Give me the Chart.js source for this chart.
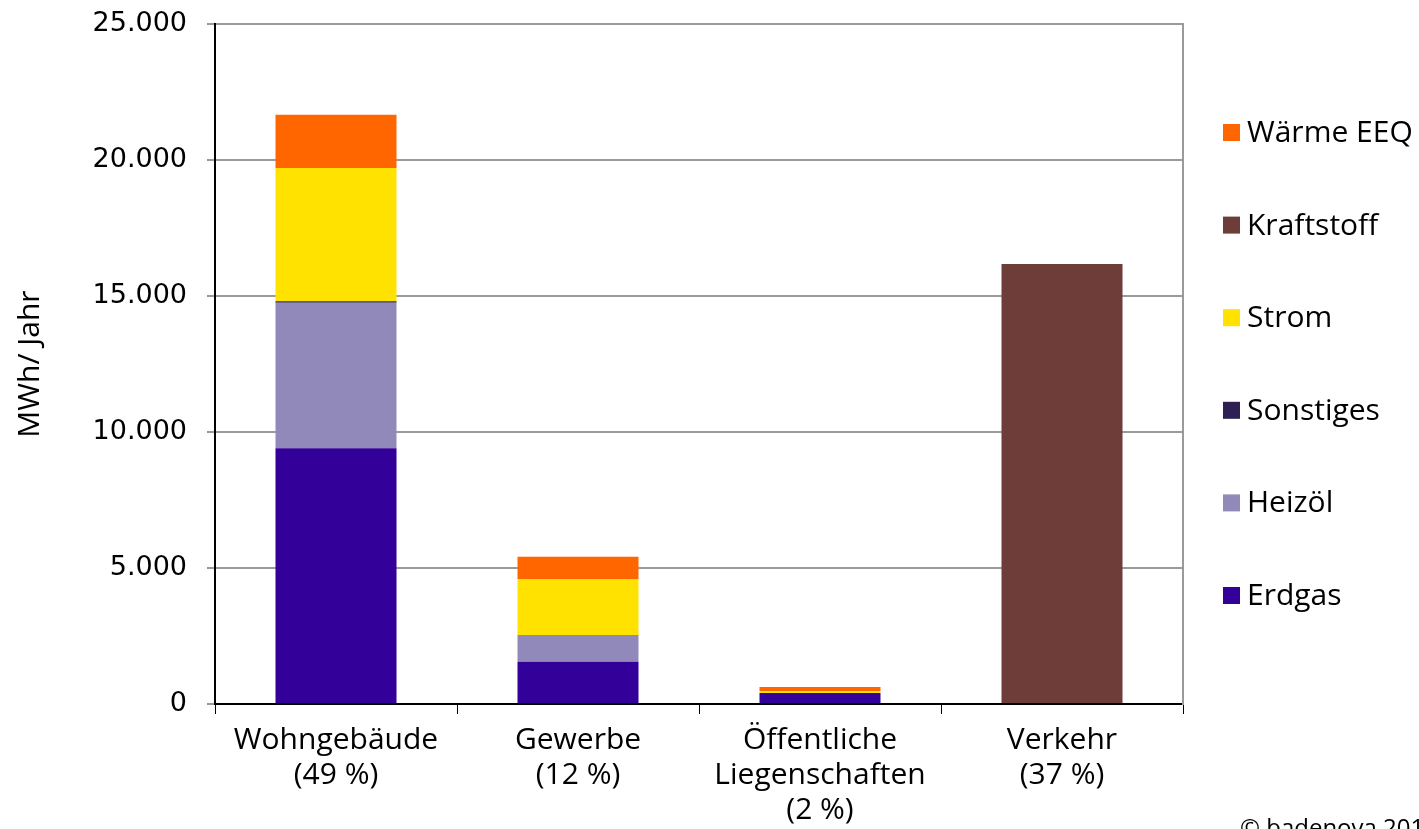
<!DOCTYPE html>
<html>
<head>
<meta charset="utf-8">
<script src="https://cdn.jsdelivr.net/npm/chart.js@4"></script>
<style>
  html, body { margin: 0; padding: 0; background: #fff; overflow: hidden; }
  #wrap { width: 1419px; height: 829px; position: relative; }
</style>
</head>
<body>
<div id="wrap"><canvas id="myChart" width="1419" height="829"></canvas></div>
<script>
var categories = [['Wohngebäude', '(49 %)'], ['Gewerbe', '(12 %)'], ['Öffentliche', 'Liegenschaften', '(2 %)'], ['Verkehr', '(37 %)']];

var erdgas     = [9400, 1550, 400, 0];
var heizoel    = [5350, 990, 0, 0];
var sonstiges  = [60, 0, 0, 0];
var strom      = [4900, 2060, 75, 0];
var kraftstoff = [0, 0, 0, 16180];
var waermeEEQ  = [1950, 810, 150, 0];

var yTicks = [0, 5000, 10000, 15000, 20000, 25000];

function fmt(v) {
    return String(v).replace(/\B(?=(\d{3})+(?!\d))/g, '.');
}

// legend on the right, drawn top to bottom in reverse order
var legendPlugin = {
    id: 'sideLegend',
    afterDraw: function(chart) {
        var c = chart.ctx;
        var sets = chart.data.datasets.slice().reverse();
        var mid = (chart.chartArea.top + chart.chartArea.bottom) / 2;
        var step = 92.6;
        var y0 = mid - step * (sets.length - 1) / 2;
        c.save();
        c.font = '30px "Open Sans"';
        c.textBaseline = 'middle';
        sets.forEach(function(ds, i) {
            var y = y0 + i * step;
            c.fillStyle = ds.backgroundColor;
            c.fillRect(1223, y - 8.5, 17, 17);
            c.fillStyle = '#000';
            c.fillText(ds.label, 1247, y + 1);
        });
        c.font = '24px "Open Sans"';
        c.textBaseline = 'alphabetic';
        c.fillText('© badenova 2014', 1240, 836);
        c.restore();
    }
};

function noPad(s) {
    s.paddingTop = 0;
    s.paddingBottom = 0;
}

const ctx = document.getElementById('myChart').getContext('2d');
const myChart = new Chart(ctx, {
    type: 'bar',
    data: {
        labels: categories,
        datasets: [
            { label: 'Erdgas', data: erdgas, backgroundColor: '#330099' },
            { label: 'Heizöl', data: heizoel, backgroundColor: '#9189BA' },
            { label: 'Sonstiges', data: sonstiges, backgroundColor: '#2E2052' },
            { label: 'Strom', data: strom, backgroundColor: '#FFE200' },
            { label: 'Kraftstoff', data: kraftstoff, backgroundColor: '#6E3D3A' },
            { label: 'Wärme EEQ', data: waermeEEQ, backgroundColor: '#FF6600' }
        ]
    },
    plugins: [legendPlugin],
    options: {
        responsive: false,
        animation: false,
        barPercentage: 0.5,
        categoryPercentage: 1.0,
        layout: { padding: { top: 24, right: 236, left: 0, bottom: 0 } },
        plugins: {
            legend: { display: false },
            tooltip: { enabled: false }
        },
        scales: {
            x: {
                stacked: true,
                afterFit: function(s) { s.height = 125; s.paddingLeft = 0; s.paddingRight = 0; },
                grid: {
                    offset: true,
                    drawOnChartArea: false,
                    tickLength: 10,
                    color: '#000',
                    lineWidth: 1
                },
                border: { color: '#000', width: 2 },
                ticks: {
                    color: '#000',
                    padding: 9,
                    maxRotation: 0,
                    autoSkip: false,
                    font: { family: 'Open Sans', size: 30, lineHeight: 1.17 }
                }
            },
            y: {
                stacked: true,
                min: 0,
                max: 25000,
                afterFit: function(s) { s.width = 215; noPad(s); },
                afterBuildTicks: function(s) {
                    s.ticks = yTicks.map(function(v) { return { value: v }; });
                },
                grid: {
                    color: '#9a9a9a',
                    lineWidth: 2,
                    tickLength: 8
                },
                border: { color: '#000', width: 2 },
                ticks: {
                    color: '#000',
                    padding: 20,
                    font: { family: 'DejaVu Sans', size: 27 },
                    callback: function(v) { return fmt(v); }
                },
                title: {
                    display: true,
                    text: 'MWh/ Jahr',
                    color: '#000',
                    padding: { top: 12, bottom: 0 },
                    font: { family: 'Open Sans', size: 30 }
                }
            },
            y2: {
                position: 'right',
                min: 0,
                max: 25000,
                afterFit: function(s) { s.width = 0; noPad(s); },
                grid: { display: false, drawTicks: false },
                ticks: { display: false },
                border: { color: '#9a9a9a', width: 2 }
            }
        }
    }
});
</script>
</body>
</html>
